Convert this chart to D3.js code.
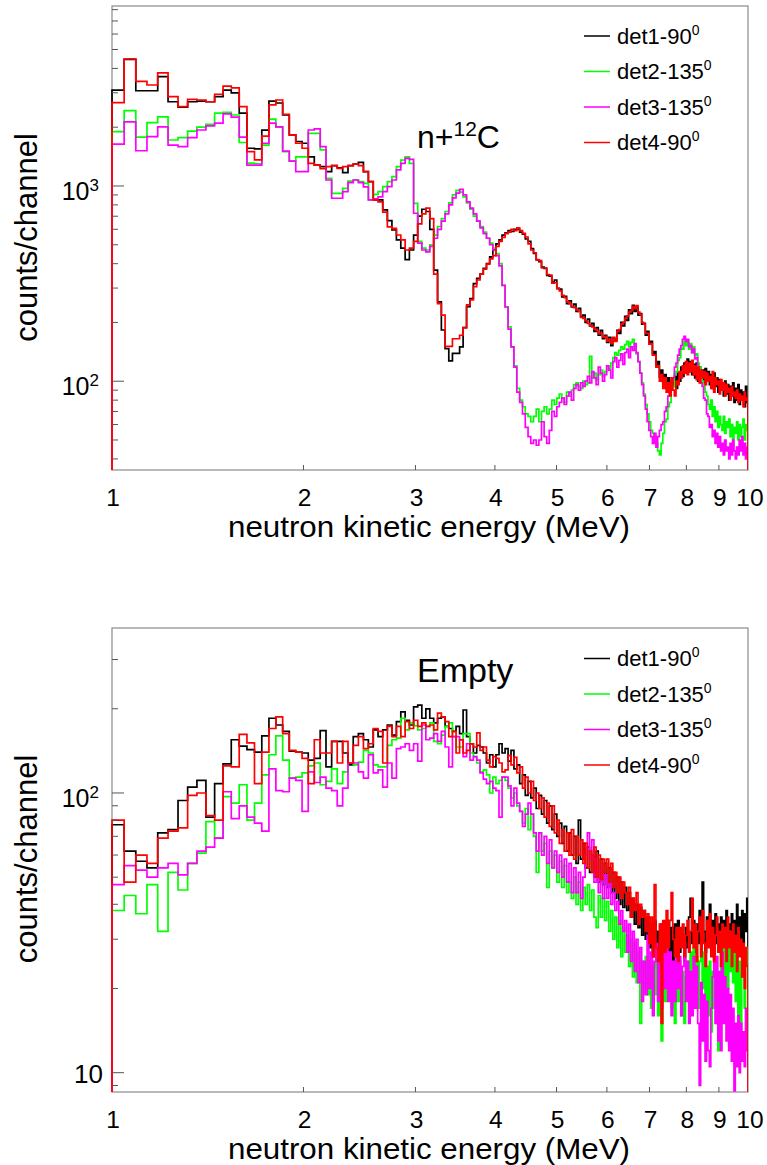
<!DOCTYPE html>
<html>
<head>
<meta charset="utf-8">
<script src="https://cdn.jsdelivr.net/npm/d3@7/dist/d3.min.js"></script>
<style>
html,body{margin:0;padding:0;background:#fff;}
svg text{font-family:"Liberation Sans",Arial,Helvetica,sans-serif;fill:#000;}
</style>
</head>
<body>
<svg id="chart" width="767" height="1165"></svg>
<script>
// ---------- binning (neutron kinetic energy, MeV) ----------
const binStart = 1.0;
const binWidth = 0.045;           // 200 bins from 1 to 10 MeV
const xTickValues = [1,2,3,4,5,6,7,8,9,10];
const xTickLabels = ["1","2","3","4","5","6","7","8","9","10"];

// ---------- series meta ----------
const detectorNames = ["det1-90","det2-135","det3-135","det4-90"];
const detectorSup   = ["0","0","0","0"];
const detectorColors = ["#000000","#00ff00","#ff00ff","#ff0000"];

// ---------- y tick labels ----------
const topYLabels = [[100,"10","2"],[1000,"10","3"]];
const bottomYLabels = [[10,"10",""],[100,"10","2"]];

// ---------- n + 12C panel (counts/channel) ----------
const top_det1 = [3100,4450,3075,3075,3630,2700,2530,2700,2720,2700,
 2870,3100,3000,2360,1560,1550,1930,2720,2660,2310,
 1825,1690,1655,1410,1280,1255,1185,1270,1240,1170,
 1270,1296,1322,1185,1052,848,848,754,664,595,
 529,480,420,470,560,700,760,740,600,371,
 255,183,147,127,139,139,150,188,241,265,
 316,336,354,378,400,433,470,505,530,560,
 575,590,585,600,600,580,566,535,520,478,
 452,418,410,384,378,348,345,322,330,298,
 296,270,272,250,258,240,248,228,236,214,
 218,200,208,192,198,180,188,172,182,165,
 172,158,168,152,166,162,182,176,200,192,
 215,205,232,222,245,228,240,218,222,196,
 198,172,180,158,160,138,142,120,126,105,
 114,98,108,92,104,88,100,94,106,92,
 110,100,118,106,124,110,130,112,126,108,
 122,104,124,100,118,106,114,98,116,100,
 112,96,108,92,110,94,104,88,102,90,
 98,84,100,86,96,80,94,84,98,78,
 92,80,96,76,90,82,88,74,94,78];
const top_det2 = [1900,2430,1780,2110,2260,1720,1770,1910,2000,2070,
 2360,2380,2310,1670,1310,1300,1620,2200,2000,1500,
 1340,1410,1410,1860,1860,1530,1095,917,917,973,
 1060,1073,1052,1032,848,905,935,993,1052,1116,
 1255,1358,1410,1306,815,520,480,470,500,560,
 620,680,740,820,900,950,930,880,820,760,
 700,660,620,580,540,510,480,450,400,310,
 240,190,150,120,92,80,74,68,66,62,
 66,72,62,70,74,68,72,80,76,82,
 86,82,78,88,84,90,96,98,94,92,
 100,96,98,134,104,110,102,108,114,106,
 112,120,116,124,132,140,136,144,150,146,
 154,160,150,158,164,152,138,126,110,98,
 86,76,68,62,56,54,50,48,44,42,
 48,54,62,64,74,78,90,94,108,112,
 128,132,148,146,160,152,162,146,156,140,
 150,136,138,124,118,110,100,96,88,84,
 76,72,80,66,74,62,70,58,66,60,
 56,66,54,62,58,64,52,60,50,58,
 54,62,50,60,52,58,64,50,60,56];
const top_det3 = [1640,2130,1515,1790,2010,1620,1590,1770,1935,2030,
 2100,2340,2250,1780,1280,1280,1655,2100,2010,1510,
 1340,1185,1185,1935,1960,1590,1073,865,865,935,
 1040,1073,1040,990,848,858,880,935,993,1073,
 1210,1306,1385,1370,725,510,470,460,490,540,
 600,660,720,800,870,920,960,900,830,770,
 720,660,610,570,540,500,470,440,390,310,
 240,185,150,118,88,78,68,58,52,48,
 50,47,50,62,52,48,56,70,66,74,
 78,82,76,84,88,80,92,96,90,98,
 94,100,106,98,112,104,96,118,110,100,
 108,120,114,104,126,132,118,128,138,122,
 140,146,132,150,144,156,140,126,110,96,
 84,72,62,56,52,48,54,46,52,56,
 60,62,70,74,84,88,100,104,118,124,
 136,146,152,164,170,160,164,150,152,140,
 146,130,132,116,110,98,94,82,80,68,
 66,58,60,52,56,48,54,46,52,44,
 48,42,50,44,46,40,48,42,50,44,
 40,46,42,50,44,52,42,48,40,46];
const top_det4 = [2670,4470,3430,3290,3800,2870,2550,2780,2756,2700,
 2950,3250,3180,2550,1500,1360,1800,2600,2756,2330,
 1825,1655,1560,1306,1280,1225,1255,1270,1230,1255,
 1270,1296,1270,1185,1052,848,830,735,618,607,
 561,529,470,480,520,640,720,770,680,354,
 250,218,151,151,165,165,172,188,246,261,
 305,330,354,375,398,423,440,490,520,545,
 570,580,600,590,610,590,572,548,505,470,
 455,420,415,380,380,352,350,318,320,300,
 290,275,268,255,250,242,238,232,228,212,
 210,204,198,194,190,185,182,175,176,168,
 170,160,164,156,168,160,180,184,196,200,
 210,216,226,230,242,236,244,226,220,200,
 196,176,176,155,156,136,136,118,120,100,
 108,92,104,88,98,84,104,90,84,100,
 96,112,104,120,110,126,108,124,112,128,
 108,120,102,118,98,114,104,112,96,110,
 100,106,92,112,88,104,96,100,86,102,
 90,98,84,96,88,92,80,94,84,88,
 82,90,78,86,80,84,74,88,80,82];

// ---------- Empty-target panel (counts/channel) ----------
const bot_det1 = [77,62,57,54,72,74,94,105,111,82,
 108,127,155,147,143,140,160,185,175,166,
 141,140,139,131,133,167,124,153,153,139,
 126,159,163,155,146,168,159,168,175,161,
 180,195,182,175,203,206,185,200,185,178,
 185,187,173,170,166,173,163,198,159,150,
 139,148,146,139,128,137,124,137,150,139,
 144,130,142,122,126,108,116,98,110,96,
 104,88,98,84,94,78,90,74,84,70,
 78,66,76,62,72,60,70,56,80,58,
 66,54,64,52,60,50,62,48,58,47,
 56,46,54,44,52,42,50,40,48,39,
 46,38,44,36,42,34,40,33,39,31,
 38,30,36,28,34,26,35,24,32,27,
 34,23,31,26,35,27,33,25,34,28,
 35,27,32,29,25,33,28,36,42,29,
 35,27,34,29,38,30,48,32,27,36,
 30,40,28,35,26,37,29,34,27,36,
 29,35,26,38,30,34,27,37,29,35,
 31,40,28,36,30,38,29,37,32,42];
const bot_det2 = [38,43,37,47,32,52,45,56,61,79,
 69,97,92,107,80,92,116,137,160,131,
 113,114,118,125,128,107,110,122,108,119,
 128,126,129,142,139,126,124,124,148,155,
 157,185,168,178,174,168,170,173,178,153,
 150,161,173,178,159,146,146,163,163,139,
 135,128,119,121,116,100,114,108,111,114,
 111,104,96,100,90,86,78,88,74,84,
 70,52,72,62,66,46,62,54,60,48,
 57,46,55,44,48,42,50,40,48,38,
 46,40,47,38,45,36,33,43,36,42,
 35,41,32,38,30,36,28,35,26,33,
 27,31,24,30,22,29,21,27,15,25,
 20,26,19,25,17,24,19,25,16,23,
 13,24,18,25,19,26,17,24,15,23,
 18,25,16,23,15,22,25,18,27,20,
 28,19,26,17,25,29,20,27,18,24,
 16,25,14,23,17,26,15,12,21,28,
 19,31,22,29,20,32,23,30,21,28,
 18,27,16,25,14,23,27,17,25,28];
const bot_det3 = [47,55,53,50,54,56,51,56,62,64,
 69,101,81,90,82,78,73,122,102,101,
 113,111,86,119,109,114,104,102,90,104,
 128,128,119,113,137,118,121,105,128,113,
 144,146,150,142,150,130,175,155,157,163,
 153,166,146,124,159,159,155,135,150,131,
 135,131,118,112,108,110,104,102,82,114,
 114,106,90,104,92,86,76,84,92,84,
 72,62,72,60,70,56,68,54,62,52,
 60,50,58,48,56,44,54,44,52,42,
 50,60,72,58,68,48,58,44,54,42,
 51,42,48,40,44,38,41,34,38,32,
 35,27,34,25,32,23,30,21,28,18,
 25,19,31,20,27,16,25,29,18,26,
 17,28,20,30,18,27,16,25,18,28,
 20,26,16,24,29,18,25,15,23,16,
 26,17,24,15,9,21,13,19,11,18,
 12,10.5,17,22,31,15,26,13,23,12,
 27,15,22,13,20,12,19,11,17,8.6,
 15,10.5,16,10,15,11,14,10.5,17,12];
const bot_det4 = [80,48,60,56,69,73,75,98,100,83,
 80,125,124,162,151,108,140,170,187,163,
 142,140,133,108,155,139,139,153,128,153,
 128,148,159,144,150,170,166,128,173,159,
 173,159,180,170,182,173,178,173,175,168,
 193,187,180,159,166,139,155,139,142,150,
 146,164,142,146,131,124,135,133,128,119,
 121,136,126,134,118,124,104,114,100,110,
 94,100,88,96,82,92,76,90,72,80,
 66,74,62,72,60,74,58,70,60,68,
 56,66,54,62,52,64,50,60,49,58,
 52,58,48,56,46,52,44,50,42,48,
 44,40,46,36,42,38,44,34,40,36,
 38,32,37,29,36,26,47,28,25,34,
 15,35,27,38,28,35,44,30,26,33,
 25,33,28,34,26,31,35,27,32,42,
 28,34,25,32,36,26,38,29,24,35,
 28,37,26,33,25,31,36,27,32,24,
 34,28,33,25,36,28,32,24,34,27,
 31,23,33,26,30,22,29,20,28,24];

// ---------- drawing ----------
const svg = d3.select("#chart");
const X0 = 112, X1 = 748;
const x = d3.scaleLog().domain([1,10]).range([X0,X1]);
const defs = svg.append("defs");

const panels = [
  {id:"top", y0:6, y1:470, ymin:35.1, ymax:8352, series:[top_det1,top_det2,top_det3,top_det4],
   yLabels:topYLabels, legendY:36, titleY:237.5, xTitleY:537, note:["n+","12","C"], noteSize:32, noteY:148},
  {id:"bot", y0:628, y1:1092, ymin:8.53, ymax:388.9, series:[bot_det1,bot_det2,bot_det3,bot_det4],
   yLabels:bottomYLabels, legendY:658.5, titleY:859, xTitleY:1158.5, note:["Empty","",""], noteSize:34, noteY:682}
];

panels.forEach(cfg => {
  const y = d3.scaleLog().domain([cfg.ymin, cfg.ymax]).range([cfg.y1, cfg.y0]);
  const g = svg.append("g");
  const clipId = "clip-" + cfg.id;
  defs.append("clipPath").attr("id", clipId).append("rect")
    .attr("x", X0 - 1.5).attr("y", cfg.y0).attr("width", X1 - X0 + 1.5).attr("height", cfg.y1 - cfg.y0);

  // frame
  g.append("rect").attr("x", X0).attr("y", cfg.y0).attr("width", X1 - X0).attr("height", cfg.y1 - cfg.y0)
    .attr("fill", "none").attr("stroke", "#8a8a8a").attr("stroke-width", 1.2);

  // histograms (step lines)
  const line = d3.line().x(d => x(d[0])).y(d => y(d[1]));
  cfg.series.forEach((vals, k) => {
    const pts = [[binStart, cfg.ymin]];
    vals.forEach((v, i) => {
      pts.push([binStart + i * binWidth, v], [binStart + (i + 1) * binWidth, v]);
    });
    pts.push([binStart + vals.length * binWidth, cfg.ymin]);
    g.append("path").attr("d", line(pts)).attr("fill", "none")
      .attr("stroke", detectorColors[k]).attr("stroke-width", 1.7)
      .attr("stroke-linejoin", "miter").attr("clip-path", `url(#${clipId})`);
  });

  // y ticks
  y.ticks().forEach(t => {
    const lg = Math.log10(t);
    const major = Math.abs(lg - Math.round(lg)) < 1e-9;
    if (t <= cfg.ymin || t >= cfg.ymax) return;
    g.append("line").attr("x1", X0).attr("x2", X0 + (major ? 12 : 6))
      .attr("y1", y(t)).attr("y2", y(t)).attr("stroke", "#555").attr("stroke-width", 1);
  });
  // x ticks
  xTickValues.slice(1, -1).forEach(t => {
    g.append("line").attr("x1", x(t)).attr("x2", x(t)).attr("y1", cfg.y1).attr("y2", cfg.y1 - 5)
      .attr("stroke", "#555").attr("stroke-width", 1);
  });

  // x tick labels
  xTickValues.forEach((t, i) => {
    g.append("text").attr("x", x(t) + (t === 10 ? 2 : 1)).attr("y", cfg.y1 + 35.5)
      .attr("text-anchor", "middle").attr("font-size", 24.5).text(xTickLabels[i]);
  });
  // y tick labels
  cfg.yLabels.forEach(([v, base, exp]) => {
    const tx = g.append("text").attr("x", exp ? 99 : 103).attr("y", y(v) + (exp ? 14 : 10))
      .attr("text-anchor", "end").attr("font-size", exp ? 25 : 26);
    tx.append("tspan").text(base);
    if (exp) tx.append("tspan").attr("font-size", 17).attr("dy", -9).text(exp);
  });

  // axis titles
  g.append("text").attr("x", 429).attr("y", cfg.xTitleY).attr("text-anchor", "middle")
    .attr("font-size", 29).attr("textLength", 402).attr("lengthAdjust", "spacingAndGlyphs")
    .text("neutron kinetic energy (MeV)");
  g.append("text").attr("transform", `translate(37,${cfg.titleY}) rotate(-90)`)
    .attr("text-anchor", "middle").attr("font-size", 31).text("counts/channel");

  // annotation
  const nt = g.append("text").attr("x", 417).attr("y", cfg.noteY).attr("font-size", cfg.noteSize);
  nt.append("tspan").text(cfg.note[0]);
  if (cfg.note[1]) {
    nt.append("tspan").attr("font-size", 21).attr("dy", -12).text(cfg.note[1]);
    nt.append("tspan").attr("dy", 12).text(cfg.note[2]);
  }

  // legend
  detectorNames.forEach((name, k) => {
    const ly = cfg.legendY + k * 35.5;
    g.append("line").attr("x1", 584).attr("x2", 610).attr("y1", ly).attr("y2", ly)
      .attr("stroke", detectorColors[k]).attr("stroke-width", 1.5);
    const lt = g.append("text").attr("x", 617).attr("y", ly + 7.5).attr("font-size", 22);
    lt.append("tspan").text(name);
    lt.append("tspan").attr("font-size", 14).attr("dy", -9).text(detectorSup[k]);
  });
});
</script>
</body>
</html>
